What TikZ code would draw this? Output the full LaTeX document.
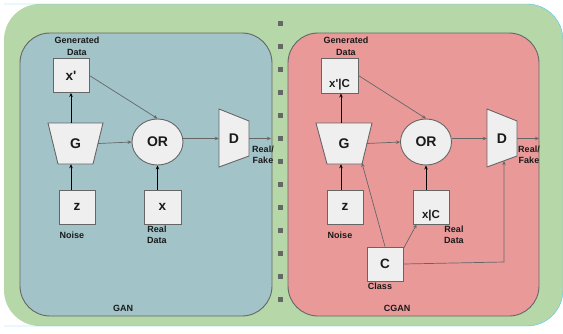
\documentclass[tikz,border=0pt]{standalone}
\usepackage{fontspec}
\setmainfont{Liberation Sans}
\usetikzlibrary{arrows.meta,shapes.geometric,calc}
\definecolor{bggreen}{HTML}{B6D7A8}
\definecolor{ganblue}{HTML}{A2C4C9}
\definecolor{cganpink}{HTML}{EA9999}
\definecolor{boxfill}{HTML}{EFEFEF}
\definecolor{edge}{HTML}{666666}
\definecolor{txt}{HTML}{1A1A1A}
\tikzset{
  box/.style={draw=edge, line width=0.9pt, fill=boxfill, minimum width=36pt, minimum height=34pt, inner sep=0pt},
  poly/.style={draw=edge, line width=0.9pt, fill=boxfill},
  orell/.style={ellipse, draw=edge, line width=0.9pt, fill=boxfill, minimum width=51pt, minimum height=46pt, inner sep=0pt, font=\fontsize{14}{14}\selectfont\bfseries, text=txt},
  anch/.style={inner sep=0pt, font=\fontsize{14}{14}\selectfont\bfseries, text=txt},
  big/.style={font=\fontsize{13.5}{14}\selectfont\bfseries, text=txt},
  mid/.style={font=\fontsize{11.5}{12}\selectfont\bfseries, text=txt},
  lab/.style={font=\fontsize{9}{11.5}\selectfont\bfseries, text=txt, align=center, inner sep=0pt},
  panel/.style={draw=edge, line width=0.9pt, rounded corners=30pt},
  garrow/.style={draw=edge, line width=0.7pt, -{Stealth[length=4pt,width=3.5pt]}},
  barrow/.style={draw=black, line width=1pt, -{Stealth[length=4pt,width=3.5pt]}},
  sep/.style={fill=edge, minimum size=5pt, inner sep=0pt},
}
\begin{document}
\begin{tikzpicture}[x=1pt,y=-1pt]
\useasboundingbox (0,0) rectangle (563,333);
% background
\fill[bggreen, rounded corners=36pt] (4,4) rectangle (563,326);
\draw[cyan!70, line width=0.4pt, rounded corners=36pt] (4,326) -- (563,326) -- (563,4) -- (4,4);
% panels
\filldraw[panel, fill=ganblue] (20,33) rectangle (272,316);
\filldraw[panel, fill=cganpink] (288,33) rectangle (539,316);
% separator
\foreach \k in {0,...,12} \node[sep] (sep\k) at (280,{23+23*\k}) {};

% ================= GAN =================
\node[box] (xp) at (71,75.5) {};
\node[big] at (xp) {x\textquotesingle};
\node[lab] (gd) at (77,46.5) {Generated\\Data};
\filldraw[poly] (48,123) -- (103,123) -- (93,164) -- (58,164) -- cycle;
\node[anch, minimum width=45pt, minimum height=41pt] (G) at (75.5,143.5) {G};
\node[orell] (OR) at (157.5,142) {OR};
\filldraw[poly] (219,109) -- (249,121) -- (249,156) -- (219,167) -- cycle;
\node[anch, minimum width=30pt, minimum height=35pt] (D) at (234,138.5) {D};
\node[box] (z) at (77,207) {};
\node[big] at (z) {z};
\node[box, minimum width=37pt] (x) at (162.5,207) {};
\node[big] at (x) {x};
\node[lab] (noise) at (72,235) {Noise};
\node[lab] (rd) at (157,235) {Real\\Data};
\node[lab] (rf) at (263,155) {Real/\\Fake};
\node[lab] (gan) at (123,308) {GAN};
\coordinate (out1) at (271,138.5);

\draw[barrow] (z.north -| xp) -- (G.south -| xp);
\draw[barrow] (G.north -| xp) -- (xp.south);
\draw[garrow] (xp.east) -- (OR.north);
\draw[garrow] (G.east) -- (OR.west);
\draw[garrow] (OR.east |- D.west) -- (D.west);
\draw[garrow] (D.east) -- (out1);
\draw[barrow] (x.north -| OR) -- (OR.south);

% ================= CGAN =================
\node[box, minimum width=37pt, minimum height=35pt] (xpc) at (339.5,75.5) {};
\node[mid, anchor=base] at ($(xpc.south)+(0,-5.5)$) {x\textquotesingle|C};
\node[lab] (gd2) at (346,46.5) {Generated\\Data};
\filldraw[poly] (316,123) -- (372,123) -- (362,164) -- (327,164) -- cycle;
\coordinate (G2br) at (362,163);
\node[anch, minimum width=45pt, minimum height=41pt] (G2) at (344,143.5) {G};
\node[orell] (OR2) at (426,142) {OR};
\filldraw[poly] (487,109) -- (517,121) -- (517,156) -- (487,167) -- cycle;
\node[anch, minimum width=30pt, minimum height=35pt] (D2) at (502,138.5) {D};
\coordinate (D2b) at (504,161);
\node[box] (z2) at (345,207) {};
\node[big] at (z2) {z};
\node[box] (xc) at (431,207) {};
\node[mid, anchor=base] at ($(xc.south)+(0,-5.5)$) {x|C};
\node[box] (C) at (385,264) {};
\node[big] at (C) {C};
\node[lab] (noise2) at (340,235) {Noise};
\node[lab] (rd2) at (454,235) {Real\\Data};
\node[lab] (cls) at (380,286) {Class};
\node[lab] (rf2) at (529,155) {Real/\\Fake};
\node[lab] (cgan) at (397,308) {CGAN};
\coordinate (out2) at (539,138.5);
\coordinate (bend) at (504,262);

\draw[barrow] (z2.north -| 341,0) -- (G2.south -| 341,0);
\draw[barrow] (G2.north -| 341,0) -- (xpc.south -| 341,0);
\draw[garrow] (xpc.east) -- (OR2.north);
\draw[garrow] (G2.east) -- (OR2.west);
\draw[garrow] (OR2.east |- D2.west) -- (D2.west);
\draw[garrow] (D2.east) -- (out2);
\draw[barrow] (xc.north -| OR2) -- (OR2.south);
\draw[garrow] (C.north) -- (G2br);
\draw[garrow] ([yshift=-2pt]C.north east) -- ([xshift=4pt]xc.south west);
\draw[garrow] (C.east) -- (bend) -- (D2b);
\end{tikzpicture}
\end{document}
